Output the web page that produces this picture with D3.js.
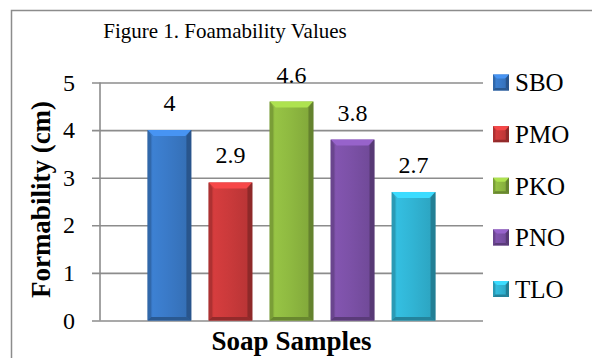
<!DOCTYPE html>
<html>
<head>
<meta charset="utf-8">
<script src="https://cdn.jsdelivr.net/npm/d3@7"></script>
<style>
  html, body { margin: 0; padding: 0; background: #fff; }
  svg { display: block; }
</style>
</head>
<body>
<svg id="chart" width="592" height="358" font-family="'Liberation Serif', 'Times New Roman', serif"></svg>
<script>
// Foam height per soap sample (cm)
const series = ["SBO", "PMO", "PKO", "PNO", "TLO"];
const values = [4, 2.9, 4.6, 3.8, 2.7];
const colors = ["#3a7ac8", "#cb3a3b", "#8fba41", "#7c51a7", "#31b5d5"];
const yTicks = [0, 1, 2, 3, 4, 5];
const titleText = "Figure 1. Foamability Values";
const yTitle = "Formability (cm)";
const xTitle = "Soap Samples";

const FONT = "'Liberation Serif', 'Times New Roman', serif";
const svg = d3.select("#chart");
const plotL = 100, plotR = 483, plotT = 82.5, plotB = 320.5;

const y = d3.scaleLinear().domain([0, 5]).range([plotB, plotT]);
const x = d3.scaleBand().domain(series).range([plotL, plotR])
  .paddingInner(0.285).paddingOuter(0.78);

// chart frame
svg.append("rect")
  .attr("x", 11.5).attr("y", 10.5).attr("width", 620).attr("height", 400)
  .attr("fill", "#fff").attr("stroke", "#8c8c8c").attr("stroke-width", 1.5);

// gridlines with tick stubs
const yAxis = d3.axisLeft(y).tickValues(yTicks).tickSize(-(plotR - plotL)).tickPadding(0).tickFormat("");
const ga = svg.append("g").attr("transform", `translate(${plotL},0)`).call(yAxis);
ga.select(".domain").remove();
ga.selectAll(".tick line").attr("x1", -8).attr("stroke", "#8c8c8c").attr("stroke-width", 1.6);
// vertical axis line
svg.append("line").attr("x1", plotL).attr("x2", plotL).attr("y1", plotT).attr("y2", plotB)
  .attr("stroke", "#8c8c8c").attr("stroke-width", 1.6);

// tick labels
svg.append("g").attr("font-family", FONT).selectAll("text").data(yTicks).join("text")
  .attr("font-family", FONT)
  .attr("x", 75).attr("y", d => y(d)).attr("dy", "0.34em")
  .attr("text-anchor", "end").attr("font-size", 24).attr("fill", "#000").text(d => d);

// gradients for the bevelled bars
const defs = svg.append("defs");
series.forEach((s, i) => {
  const c = d3.color(colors[i]);
  const g = defs.append("linearGradient").attr("id", "g" + i)
    .attr("x1", 0).attr("x2", 1).attr("y1", 0).attr("y2", 0);
  g.append("stop").attr("offset", "0%").attr("stop-color", c.darker(0.6));
  g.append("stop").attr("offset", "12%").attr("stop-color", c.brighter(0.15));
  g.append("stop").attr("offset", "45%").attr("stop-color", c);
  g.append("stop").attr("offset", "88%").attr("stop-color", c.darker(0.25));
  g.append("stop").attr("offset", "100%").attr("stop-color", c.darker(1.0));
});

function bevelBar(g, x0, x1, t, b, i, bv) {
  const c = d3.color(colors[i]);
  g.append("rect").attr("x", x0).attr("y", t).attr("width", x1 - x0).attr("height", b - t)
    .attr("fill", `url(#g${i})`);
  // top facet
  g.append("polygon")
    .attr("points", [[x0, t], [x1, t], [x1 - bv, t + bv], [x0 + bv, t + bv]].join(" "))
    .attr("fill", c.brighter(0.55));
  // left facet
  g.append("polygon")
    .attr("points", [[x0, t], [x0 + bv * 0.6, t + bv], [x0 + bv * 0.6, b - bv * 0.6], [x0, b]].join(" "))
    .attr("fill", c.darker(0.45));
  // right facet
  g.append("polygon")
    .attr("points", [[x1, t], [x1 - bv * 0.8, t + bv], [x1 - bv * 0.8, b - bv * 0.6], [x1, b]].join(" "))
    .attr("fill", c.darker(1.0));
  // bottom facet
  g.append("polygon")
    .attr("points", [[x0, b], [x1, b], [x1 - bv * 0.8, b - bv * 0.6], [x0 + bv * 0.6, b - bv * 0.6]].join(" "))
    .attr("fill", c.darker(0.9));
}

const bars = svg.append("g");
series.forEach((s, i) => {
  const g = bars.append("g");
  bevelBar(g, x(s), x(s) + x.bandwidth(), y(values[i]), y(0), i, 6);
});

// value labels
svg.append("g").selectAll("text").data(series).join("text")
  .attr("font-family", FONT)
  .attr("x", d => x(d) + x.bandwidth() / 2)
  .attr("y", (d, i) => y(values[i]) - 19)
  .attr("text-anchor", "middle").attr("font-size", 24).attr("fill", "#000")
  .text((d, i) => values[i]);

// titles
svg.append("text").attr("font-family", FONT).attr("x", 225).attr("y", 38).attr("text-anchor", "middle")
  .attr("font-size", 21).text(titleText);
svg.append("text").attr("font-family", FONT)
  .attr("transform", `translate(50,${(plotT + plotB) / 2 - 2}) rotate(-90)`)
  .attr("text-anchor", "middle").attr("font-size", 27).attr("font-weight", "bold").text(yTitle);
svg.append("text").attr("font-family", FONT).attr("x", (plotL + plotR) / 2).attr("y", 350).attr("text-anchor", "middle")
  .attr("font-size", 27).attr("font-weight", "bold").text(xTitle);

// legend
const legendY = d3.scalePoint().domain(series).range([82.5, 289]);
const lg = svg.append("g");
series.forEach((s, i) => {
  const cy = legendY(s);
  const g = lg.append("g");
  bevelBar(g, 493, 509, cy - 8, cy + 8, i, 4);
  g.append("text").attr("font-family", FONT).attr("x", 515).attr("y", cy).attr("dy", "0.35em")
    .attr("font-size", 25).attr("fill", "#000").text(s);
});
</script>
</body>
</html>
